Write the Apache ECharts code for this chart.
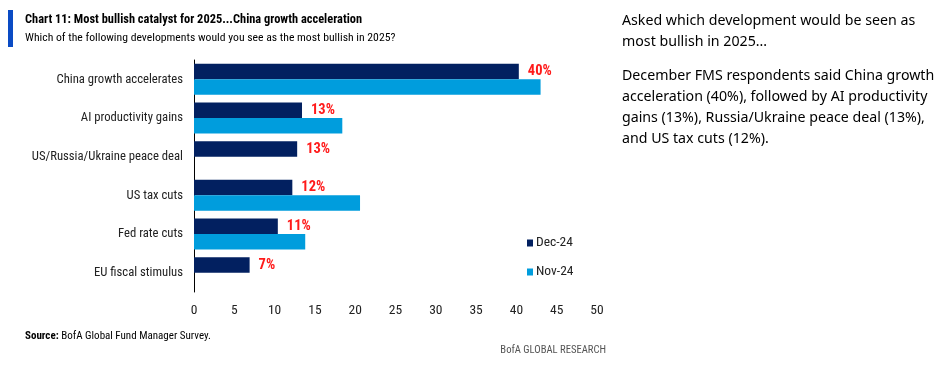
<!DOCTYPE html>
<html><head><meta charset="utf-8">
<script src="https://cdn.jsdelivr.net/npm/echarts@6/dist/echarts.min.js"></script>
<style>html,body{margin:0;padding:0;background:#fff}#c{width:941px;height:373px}</style>
</head><body><div id="c"></div>
<script>
const categories = ["China growth accelerates","AI productivity gains","US/Russia/Ukraine peace deal","US tax cuts","Fed rate cuts","EU fiscal stimulus"];
const dec24 = [40.3, 13.4, 12.8, 12.2, 10.4, 6.9];
const nov24 = [43, 18.4, null, 20.6, 13.8, null];
const decLabels = ["40%","13%","13%","12%","11%","7%"];
const xTicks = [0,5,10,15,20,25,30,35,40,45,50];

const F = '"Roboto Condensed","DejaVu Sans Condensed",sans-serif';
const chart = echarts.init(document.getElementById('c'));
chart.setOption({
  animation:false,
  grid:{left:194,right:344,top:60,bottom:81},
  legend:{orient:'vertical',left:522,top:231,itemWidth:6,itemHeight:7,itemGap:15,
    icon:'rect',textStyle:{fontFamily:F,fontSize:13.5,color:'#222',padding:[0,0,0,-2]},
    data:['Dec-24','Nov-24']},
  xAxis:{type:'value',min:0,max:50,interval:5,splitLine:{show:false},
    axisLine:{show:false},axisTick:{show:false},
    axisLabel:{fontFamily:F,fontSize:13.5,color:'#222',margin:12,
      formatter:v=>xTicks.includes(v)?String(v):''}},
  yAxis:{type:'category',inverse:true,data:categories,
    axisLine:{show:true,lineStyle:{color:'#000',width:1}},axisTick:{show:false},
    axisLabel:{fontFamily:F,fontSize:12.7,color:'#222',margin:11}},
  series:[
    {name:'Dec-24',type:'bar',data:dec24,barGap:'0%',barCategoryGap:'20%',
     itemStyle:{color:'#022060'},
     label:{show:true,position:'right',distance:9,color:'#ff1a1a',fontFamily:F,fontSize:14.5,fontWeight:'bold',
       formatter:p=>decLabels[p.dataIndex]}},
    {name:'Nov-24',type:'bar',data:nov24,itemStyle:{color:'#009ddd'}}
  ],
  graphic:[
    {type:'rect',shape:{x:8,y:10,width:5,height:37},style:{fill:'#0a4bc4'}},
    {type:'text',left:25,top:14,style:{text:'Chart 11: Most bullish catalyst for 2025...China growth acceleration',
      fontFamily:F,fontWeight:'bold',fontSize:12.4,fill:'#000'}},
    {type:'text',left:25,top:32,style:{text:'Which of the following developments would you see as the most bullish in 2025?',
      fontFamily:F,fontSize:11.7,fill:'#000'}},
    {type:'text',left:25,top:331,style:{rich:{b:{fontFamily:F,fontWeight:'bold',fontSize:11,fill:'#000'},n:{fontFamily:F,fontSize:11,fill:'#000'}},
      text:'{b|Source:}{n| BofA Global Fund Manager Survey.}'}},
    {type:'text',right:335,top:345,style:{text:'BofA GLOBAL RESEARCH',fontFamily:F,fontSize:10.6,fill:'#555'}},
    {type:'text',left:622,top:10,style:{text:'Asked which development would be seen as\nmost bullish in 2025...',
      fontFamily:'"Noto Sans",sans-serif',fontSize:14.2,lineHeight:21,fill:'#000'}},
    {type:'text',left:622,top:65,style:{text:'December FMS respondents said China growth\nacceleration (40%), followed by AI productivity\ngains (13%), Russia/Ukraine peace deal (13%),\nand US tax cuts (12%).',
      fontFamily:'"Noto Sans",sans-serif',fontSize:14.2,lineHeight:21,fill:'#000'}}
  ]
});
</script></body></html>
